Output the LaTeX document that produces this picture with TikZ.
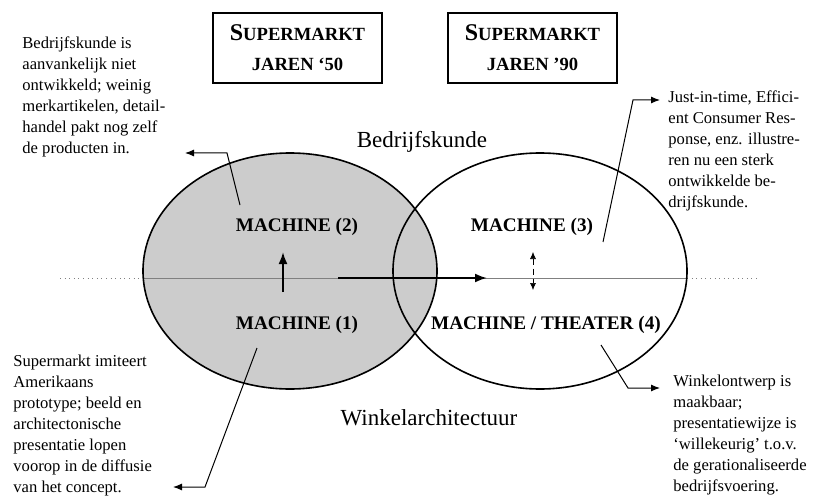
\documentclass[tikz,border=0pt]{standalone}
\usepackage{fontspec}
\setmainfont{Liberation Serif}
\usetikzlibrary{arrows.meta}
\tikzset{
    era box/.style={draw, line width=0.6pt, minimum width=84.5pt, minimum height=35pt, align=center, inner sep=1pt, font=\bfseries\fontsize{9.3}{15}\selectfont},
    phase label/.style={font=\bfseries\fontsize{9.6}{11}\selectfont, inner sep=1pt},
    field label/.style={font=\fontsize{11.5}{13}\selectfont, inner sep=1pt},
    note text/.style={anchor=north west, align=left, inner sep=0pt, font=\fontsize{8.3}{10.5}\selectfont},
    zone/.style={line width=0.8pt},
    axis line/.style={gray, line width=0.3pt},
    flow arrow/.style={-{Latex[length=6pt,width=4.5pt]}, line width=1pt},
    swing arrow/.style={{Latex[length=3.5pt,width=3pt]}-{Latex[length=3.5pt,width=3pt]}, line width=0.3pt, densely dashed},
    callout/.style={-{Latex[length=4.5pt,width=3.5pt]}, line width=0.5pt},
}
\colorlet{zonefill}{black!20}
\newcommand{\supermarkt}{{\fontsize{12}{15}\selectfont S}UPERMARKT}

\begin{document}
\begin{tikzpicture}[x=0.5pt, y=-0.5pt]
    \useasboundingbox (0,0) rectangle (813,497);
    % the two fields
    \coordinate (left zone) at (290,271);
    \coordinate (right zone) at (540,271);
    \fill[zonefill] (left zone) ellipse [x radius=147, y radius=118];
    \draw[axis line, dotted] (60,278) -- (143,278);
    \draw[axis line] (143,278) -- (687,278);
    \draw[axis line, dotted] (687,278) -- (760,278);
    \draw[zone] (left zone) ellipse [x radius=147, y radius=118];
    \draw[zone] (right zone) ellipse [x radius=147, y radius=118];
    % era boxes
    \node[era box] (era50) at (297.5,48) {\supermarkt\\JAREN ‘50};
    \node[era box] (era90) at (532.5,48) {\supermarkt\\JAREN ’90};
    \node[field label] (bedrijf) at (422,142) {Bedrijfskunde};
    \node[field label] (winkel) at (429,418) {Winkelarchitectuur};
    % phases
    \node[phase label] (m2) at (297,227) {MACHINE (2)};
    \node[phase label] (m1) at (297,325) {MACHINE (1)};
    \node[phase label] (m3) at (532,227) {MACHINE (3)};
    \node[phase label] (m4) at (546,325) {MACHINE / THEATER (4)};
    \draw[flow arrow] (283,292) -- (283,252);
    \draw[flow arrow] (338,278) -- (487,278);
    \draw[swing arrow] (533,252) -- (533,290);
    % notes
    \node[note text] (note2) at (22,36) {Bedrijfskunde is\\aanvankelijk niet\\ontwikkeld; weinig\\merkartikelen, detail-\\handel pakt nog zelf\\de producten in.};
    \node[note text] (note3) at (668,90) {Just-in-time, Effici-\\ent Consumer Res-\\ponse, enz. illustre-\\ren nu een sterk\\ontwikkelde be-\\drijfskunde.};
    \node[note text] (note1) at (13,355) {Supermarkt imiteert\\Amerikaans\\prototype; beeld en\\architectonische\\presentatie lopen\\voorop in de diffusie\\van het concept.};
    \node[note text] (note4) at (673,375) {Winkelontwerp is\\maakbaar;\\presentatiewijze is\\‘willekeurig’ t.o.v.\\de gerationaliseerde\\bedrijfsvoering.};
    % callouts
    \foreach \name/\sx/\sy/\bx/\by/\ex in {c2/240/205/227/153/185, c3/603/242/633/100/660, c1/257/348/205/487/173, c4/601/345/628/388/660} {
        \coordinate (\name s) at (\sx,\sy);
        \coordinate (\name b) at (\bx,\by);
        \coordinate (\name e) at (\ex,\by);
        \draw[callout] (\name s) -- (\name b) -- (\name e);
    }
\end{tikzpicture}
\end{document}
